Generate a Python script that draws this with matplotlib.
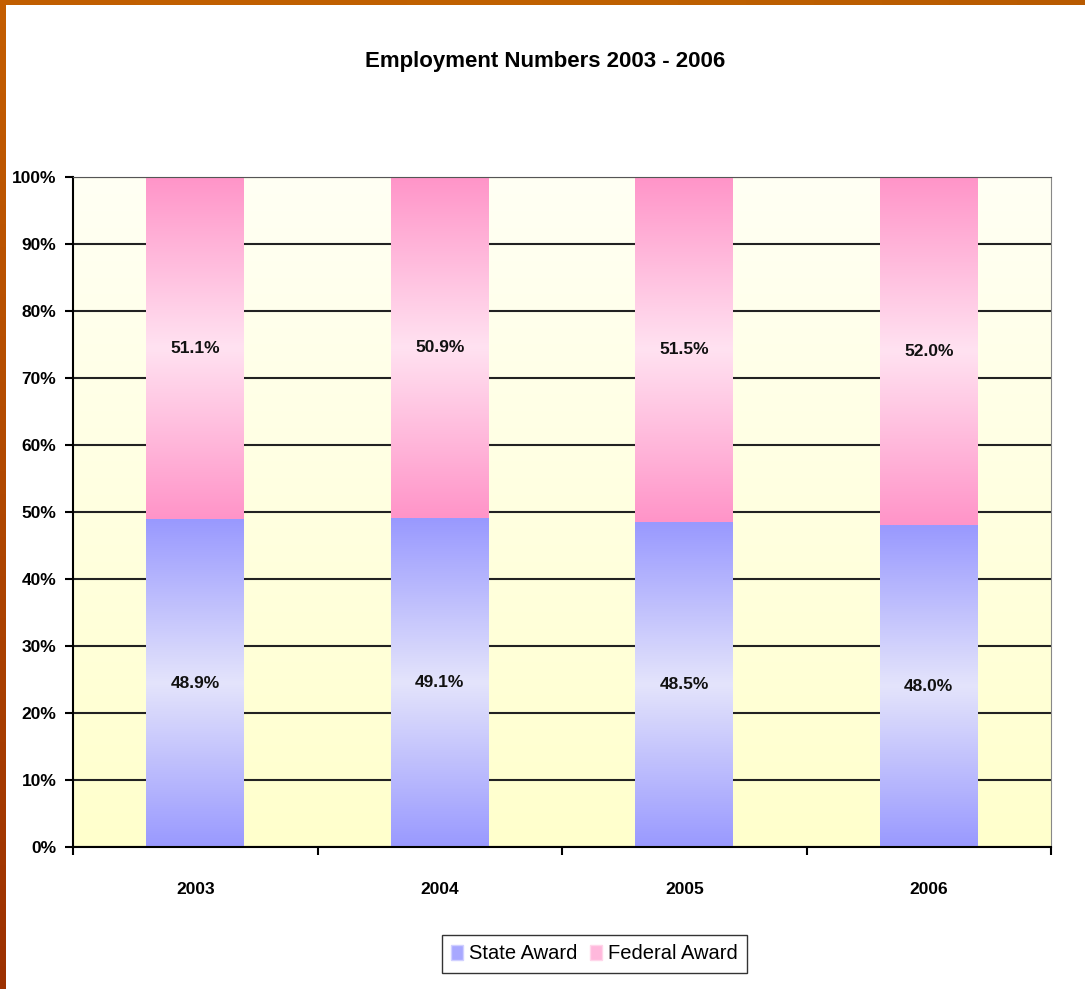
import numpy as np
import matplotlib.pyplot as plt
from matplotlib.colors import LinearSegmentedColormap
from matplotlib.patches import Patch

years = ['2003', '2004', '2005', '2006']
state = [48.9, 49.1, 48.5, 48.0]
federal = [51.1, 50.9, 51.5, 52.0]
yticks = [0, 10, 20, 30, 40, 50, 60, 70, 80, 90, 100]

plt.rcParams['font.family'] = ['Liberation Sans', 'DejaVu Sans']

fig = plt.figure(figsize=(10.85, 9.89), dpi=100)
fig.patch.set_facecolor('white')
ax = fig.add_axes([0.0673, 0.1436, 0.9014, 0.6775])


def grad_fill(ax, bars, deep, light):
    # gradient deep -> light -> deep, clipped to each bar
    cmap = LinearSegmentedColormap.from_list('g', [deep, light, deep])
    col = np.linspace(0, 1, 256).reshape(-1, 1)
    for b in bars:
        x, y = b.get_x(), b.get_y()
        w, h = b.get_width(), b.get_height()
        im = ax.imshow(col, cmap=cmap, extent=[x, x + w, y, y + h],
                       aspect='auto', origin='lower', zorder=2)
        im.set_clip_path(b)
        b.set_facecolor('none')


x = np.arange(len(years))
b1 = ax.bar(x, state, width=0.4, linewidth=0, zorder=2)
b2 = ax.bar(x, federal, width=0.4, bottom=state, linewidth=0, zorder=2)
grad_fill(ax, b1, '#9999ff', '#e4e4fb')
grad_fill(ax, b2, '#ff94c8', '#ffe2f1')

ax.bar_label(b1, labels=[f'{v:.1f}%' for v in state], label_type='center',
             fontsize=12.5, fontweight='bold', color='#111111')
ax.bar_label(b2, labels=[f'{v:.1f}%' for v in federal], label_type='center',
             fontsize=12.5, fontweight='bold', color='#111111')

# plot area background
bg = np.zeros((256, 1, 3))
t = np.linspace(0, 1, 256)
lo = np.array([255, 255, 204]) / 255
hi = np.array([255, 255, 244]) / 255
bg[:, 0, :] = lo + (hi - lo) * t[:, None]
ax.imshow(bg, extent=[0, 1, 0, 1], transform=ax.transAxes, aspect='auto',
          origin='lower', zorder=0)

ax.set_xlim(-0.5, 3.5)
ax.set_ylim(0, 100)
ax.set_yticks(yticks)
ax.set_yticklabels([f'{v}%' for v in yticks], fontsize=12.5, fontweight='bold')
ax.set_xticks(x)
ax.set_xticklabels(years, fontsize=12.5, fontweight='bold')
ax.set_xticks([-0.5, 0.5, 1.5, 2.5, 3.5], minor=True)
ax.tick_params(axis='x', which='major', length=0, pad=25)
ax.tick_params(axis='x', which='minor', length=6, width=1.5, direction='out')
ax.tick_params(axis='y', length=6, width=1.5, direction='out', pad=6)

ax.yaxis.grid(True, color='#222222', linewidth=1.5)
ax.set_axisbelow(True)
ax.spines['left'].set_linewidth(1.5)
ax.spines['bottom'].set_linewidth(1.5)
ax.spines['top'].set_color('#555555')
ax.spines['right'].set_color('#888888')

fig.text(0.502, 1 - 61 / 989, 'Employment Numbers 2003 - 2006', ha='center',
         va='center', fontsize=16, fontweight='bold')

handles = [Patch(facecolor='#a8a8ff', edgecolor='#d0d0ff', label='State Award'),
           Patch(facecolor='#ffb8dc', edgecolor='#ffd6ea', label='Federal Award')]
leg = fig.legend(handles=handles, loc='center', bbox_to_anchor=(0.548, 0.0354),
                 ncol=2, fontsize=14.5, frameon=True, fancybox=False,
                 edgecolor='black', handlelength=0.6, handleheight=0.8,
                 handletextpad=0.3, columnspacing=0.6, borderpad=0.45)
leg.get_frame().set_linewidth(1.0)

# slide border (orange)
top = fig.add_axes([0, 1 - 5 / 989, 1, 5 / 989])
top.imshow(np.linspace(0, 1, 256).reshape(1, -1),
           cmap=LinearSegmentedColormap.from_list('o', ['#c25e00', '#c06200', '#b85a00']),
           aspect='auto')
top.axis('off')
left = fig.add_axes([0, 0, 6 / 1085, 1])
left.imshow(np.linspace(0, 1, 256).reshape(-1, 1),
            cmap=LinearSegmentedColormap.from_list('o2', ['#c45e00', '#b04800', '#9c3000']),
            aspect='auto')
left.axis('off')

fig.savefig('out.png', dpi=100)
